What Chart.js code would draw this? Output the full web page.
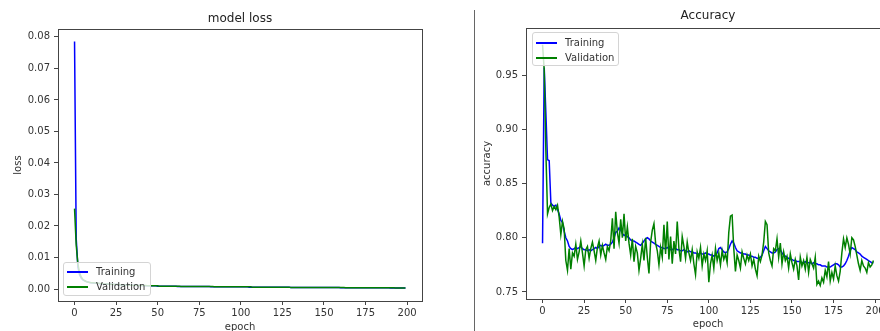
<!DOCTYPE html>
<html>
<head>
<meta charset="utf-8">
<script src="https://cdn.jsdelivr.net/npm/chart.js"></script>
<style>
  html, body { margin: 0; padding: 0; background: #fff; width: 880px; height: 331px; overflow: hidden; position: relative; }
  .wrap { position: absolute; top: 0; }
  .sep { position: absolute; left: 474px; top: 10px; width: 1px; height: 321px; background: #666; }
  .legend { position: absolute; background: rgba(255,255,255,0.8); border: 1px solid #d4d4d4; border-radius: 3px;
            font: 10px 'DejaVu Sans', sans-serif; color: #333; box-sizing: border-box; padding: 0 0 0 3px; }
  .legend .item { height: 15px; display: flex; align-items: center; white-space: nowrap; }
  .legend .swatch { display: inline-block; width: 21px; height: 2px; margin-right: 8px; }
</style>
</head>
<body>
<div class="wrap" style="left:0px"><canvas id="lossChart" width="480" height="340"></canvas></div>
<div class="wrap" style="left:476px"><canvas id="accChart" width="464" height="340"></canvas></div>
<div class="sep"></div>
<div class="legend" id="lossLegend" style="left:63px; top:262px; width:88px; height:34px; padding-top:1px"></div>
<div class="legend" id="accLegend" style="left:532px; top:32px; width:87px; height:34px; padding-top:2px"></div>
<script>
// epochs 0..199
var epochs = Array.from({ length: 200 }, (_, i) => i);
var seriesNames = ['Training', 'Validation'];

var lossTrain = [
  0.0785, 0.0160, 0.0070, 0.0045, 0.0035, 0.0029, 0.0026, 0.0024, 0.0022, 0.0021,
  0.0020, 0.0019, 0.0019, 0.0018, 0.0018, 0.0017, 0.0017, 0.0016, 0.0016, 0.0016,
  0.0015, 0.0015, 0.0015, 0.0014, 0.0014, 0.0014, 0.0014, 0.0013, 0.0013, 0.0013,
  0.0013, 0.0013, 0.0012, 0.0012, 0.0012, 0.0012, 0.0012, 0.0011, 0.0011, 0.0011,
  0.0011, 0.0011, 0.0011, 0.0010, 0.0010, 0.0010, 0.0010, 0.0010, 0.0010, 0.0010,
  0.0009, 0.0009, 0.0009, 0.0009, 0.0009, 0.0009, 0.0009, 0.0009, 0.0009, 0.0009,
  0.0009, 0.0009, 0.0008, 0.0008, 0.0008, 0.0008, 0.0008, 0.0008, 0.0008, 0.0008,
  0.0008, 0.0008, 0.0008, 0.0008, 0.0008, 0.0008, 0.0008, 0.0008, 0.0008, 0.0008,
  0.0008, 0.0008, 0.0007, 0.0007, 0.0007, 0.0007, 0.0007, 0.0007, 0.0007, 0.0007,
  0.0007, 0.0007, 0.0007, 0.0007, 0.0007, 0.0007, 0.0007, 0.0007, 0.0007, 0.0007,
  0.0007, 0.0007, 0.0007, 0.0007, 0.0007, 0.0006, 0.0006, 0.0006, 0.0006, 0.0006,
  0.0006, 0.0006, 0.0006, 0.0006, 0.0006, 0.0006, 0.0006, 0.0006, 0.0006, 0.0006,
  0.0006, 0.0006, 0.0006, 0.0006, 0.0006, 0.0006, 0.0006, 0.0006, 0.0006, 0.0006,
  0.0005, 0.0005, 0.0005, 0.0005, 0.0005, 0.0005, 0.0005, 0.0005, 0.0005, 0.0005,
  0.0005, 0.0005, 0.0005, 0.0005, 0.0005, 0.0005, 0.0005, 0.0005, 0.0005, 0.0005,
  0.0005, 0.0005, 0.0005, 0.0005, 0.0005, 0.0005, 0.0005, 0.0005, 0.0005, 0.0005,
  0.0004, 0.0004, 0.0004, 0.0004, 0.0004, 0.0004, 0.0004, 0.0004, 0.0004, 0.0004,
  0.0004, 0.0004, 0.0004, 0.0004, 0.0004, 0.0004, 0.0004, 0.0004, 0.0004, 0.0004,
  0.0004, 0.0004, 0.0004, 0.0004, 0.0004, 0.0004, 0.0004, 0.0004, 0.0004, 0.0004,
  0.0003, 0.0003, 0.0003, 0.0003, 0.0003, 0.0003, 0.0003, 0.0003, 0.0003, 0.0003
];

var lossVal = [
  0.0255, 0.0140, 0.0080, 0.0052, 0.0038, 0.0031, 0.0027, 0.0024, 0.0022, 0.0021,
  0.0020, 0.0020, 0.0019, 0.0019, 0.0018, 0.0018, 0.0017, 0.0017, 0.0016, 0.0016,
  0.0016, 0.0015, 0.0015, 0.0015, 0.0014, 0.0014, 0.0014, 0.0014, 0.0013, 0.0013,
  0.0013, 0.0013, 0.0013, 0.0012, 0.0012, 0.0012, 0.0012, 0.0012, 0.0011, 0.0011,
  0.0011, 0.0011, 0.0011, 0.0011, 0.0010, 0.0010, 0.0010, 0.0010, 0.0010, 0.0010,
  0.0010, 0.0009, 0.0009, 0.0009, 0.0009, 0.0009, 0.0009, 0.0009, 0.0009, 0.0009,
  0.0009, 0.0009, 0.0009, 0.0009, 0.0008, 0.0008, 0.0008, 0.0008, 0.0008, 0.0008,
  0.0008, 0.0008, 0.0008, 0.0008, 0.0008, 0.0008, 0.0008, 0.0008, 0.0008, 0.0008,
  0.0008, 0.0008, 0.0008, 0.0008, 0.0007, 0.0007, 0.0007, 0.0007, 0.0007, 0.0007,
  0.0007, 0.0007, 0.0007, 0.0007, 0.0007, 0.0007, 0.0007, 0.0007, 0.0007, 0.0007,
  0.0007, 0.0007, 0.0007, 0.0007, 0.0007, 0.0007, 0.0007, 0.0006, 0.0006, 0.0006,
  0.0006, 0.0006, 0.0006, 0.0006, 0.0006, 0.0006, 0.0006, 0.0006, 0.0006, 0.0006,
  0.0006, 0.0006, 0.0006, 0.0006, 0.0006, 0.0006, 0.0006, 0.0006, 0.0006, 0.0006,
  0.0005, 0.0005, 0.0005, 0.0005, 0.0005, 0.0005, 0.0005, 0.0005, 0.0005, 0.0005,
  0.0005, 0.0005, 0.0005, 0.0005, 0.0005, 0.0005, 0.0005, 0.0005, 0.0005, 0.0005,
  0.0005, 0.0005, 0.0005, 0.0005, 0.0005, 0.0005, 0.0005, 0.0005, 0.0005, 0.0005,
  0.0005, 0.0005, 0.0005, 0.0004, 0.0004, 0.0004, 0.0004, 0.0004, 0.0004, 0.0004,
  0.0004, 0.0004, 0.0004, 0.0004, 0.0004, 0.0004, 0.0004, 0.0004, 0.0004, 0.0004,
  0.0004, 0.0004, 0.0004, 0.0004, 0.0004, 0.0004, 0.0004, 0.0004, 0.0004, 0.0004,
  0.0004, 0.0004, 0.0004, 0.0003, 0.0003, 0.0003, 0.0003, 0.0003, 0.0003, 0.0003
];

var accTrain = [
  0.795, 0.957, 0.915, 0.872, 0.871, 0.832, 0.830, 0.829, 0.830, 0.826,
  0.822, 0.816, 0.814, 0.806, 0.800, 0.797, 0.792, 0.790, 0.789, 0.790,
  0.791, 0.790, 0.791, 0.792, 0.790, 0.789, 0.789, 0.788, 0.789, 0.788,
  0.789, 0.790, 0.791, 0.790, 0.792, 0.793, 0.792, 0.793, 0.794, 0.793,
  0.793, 0.794, 0.796, 0.800, 0.805, 0.806, 0.809, 0.807, 0.804, 0.802,
  0.803, 0.801, 0.800, 0.798, 0.797, 0.797, 0.796, 0.795, 0.794, 0.793,
  0.795, 0.797, 0.799, 0.800, 0.799, 0.797, 0.796, 0.795, 0.794, 0.793,
  0.792, 0.791, 0.791, 0.790, 0.790, 0.791, 0.790, 0.789, 0.789, 0.790,
  0.790, 0.789, 0.789, 0.788, 0.788, 0.789, 0.788, 0.787, 0.788, 0.787,
  0.787, 0.786, 0.786, 0.785, 0.785, 0.786, 0.785, 0.785, 0.786, 0.785,
  0.785, 0.784, 0.784, 0.783, 0.784, 0.786, 0.790, 0.791, 0.789, 0.787,
  0.786, 0.787, 0.790, 0.794, 0.797, 0.795, 0.791, 0.788, 0.787, 0.786,
  0.786, 0.785, 0.785, 0.784, 0.784, 0.783, 0.783, 0.782, 0.782, 0.781,
  0.781, 0.782, 0.784, 0.788, 0.792, 0.790, 0.788, 0.787, 0.786, 0.786,
  0.787, 0.789, 0.790, 0.789, 0.786, 0.784, 0.783, 0.782, 0.781, 0.780,
  0.780, 0.779, 0.779, 0.778, 0.778, 0.778, 0.777, 0.777, 0.778, 0.777,
  0.777, 0.777, 0.776, 0.777, 0.776, 0.776, 0.775, 0.775, 0.774, 0.774,
  0.774, 0.773, 0.773, 0.773, 0.774, 0.775, 0.776, 0.776, 0.775, 0.773,
  0.773, 0.774, 0.776, 0.779, 0.783, 0.788, 0.791, 0.790, 0.789, 0.787,
  0.786, 0.785, 0.783, 0.782, 0.781, 0.780, 0.779, 0.778, 0.777, 0.777
];

var accVal = [
  0.978, 0.955, 0.880, 0.822, 0.828, 0.831, 0.825, 0.829, 0.826, 0.830,
  0.819, 0.803, 0.815, 0.808, 0.779, 0.770, 0.790, 0.771, 0.786, 0.783,
  0.794, 0.780, 0.787, 0.797, 0.786, 0.774, 0.789, 0.792, 0.781, 0.790,
  0.796, 0.788, 0.779, 0.791, 0.797, 0.784, 0.793, 0.786, 0.780, 0.792,
  0.788, 0.797, 0.818, 0.790, 0.824, 0.805, 0.795, 0.817, 0.800, 0.822,
  0.797, 0.810, 0.795, 0.784, 0.799, 0.778, 0.792, 0.786, 0.770, 0.781,
  0.794, 0.779, 0.800, 0.782, 0.767, 0.796, 0.807, 0.813, 0.795, 0.788,
  0.775, 0.791, 0.782, 0.812, 0.785, 0.815, 0.780, 0.801, 0.776, 0.797,
  0.785, 0.815, 0.790, 0.778, 0.801, 0.792, 0.781, 0.796, 0.786, 0.779,
  0.789, 0.776, 0.766, 0.787, 0.781, 0.791, 0.774, 0.785, 0.779, 0.788,
  0.759, 0.776, 0.784, 0.772, 0.790, 0.779, 0.786, 0.775, 0.788, 0.780,
  0.785, 0.777, 0.805, 0.820, 0.821, 0.790, 0.769, 0.784, 0.779, 0.772,
  0.787, 0.781, 0.776, 0.784, 0.779, 0.785, 0.774, 0.780, 0.771, 0.765,
  0.783, 0.778, 0.784, 0.796, 0.815, 0.812, 0.786, 0.779, 0.774, 0.790,
  0.788, 0.799, 0.782, 0.795, 0.776, 0.787, 0.779, 0.783, 0.772, 0.785,
  0.777, 0.771, 0.780, 0.774, 0.761, 0.782, 0.774, 0.779, 0.771, 0.782,
  0.768, 0.780, 0.776, 0.772, 0.782, 0.757, 0.760, 0.756, 0.763, 0.759,
  0.770, 0.764, 0.778, 0.760, 0.768, 0.762, 0.774, 0.765, 0.760, 0.769,
  0.786, 0.799, 0.791, 0.800, 0.794, 0.785, 0.800, 0.798, 0.792, 0.784,
  0.776, 0.770, 0.779, 0.774, 0.772, 0.768, 0.777, 0.773, 0.775, 0.779
];

var epochTicks = [0, 25, 50, 75, 100, 125, 150, 175, 200];
var lossTicks = [0, 0.01, 0.02, 0.03, 0.04, 0.05, 0.06, 0.07, 0.08];
var accTicks = [0.75, 0.80, 0.85, 0.90, 0.95];

Chart.defaults.font.family = "'DejaVu Sans', sans-serif";
Chart.defaults.color = '#333';

var axisColor = '#444';

function fixTicks(list) {
  return function (scale) { scale.ticks = list.map(function (v) { return { value: v }; }); };
}

// empty axes, only used to draw the top / right spine and to hold the margins
function frameAxis(pos, size) {
  return {
    type: 'linear', position: pos, display: true,
    grid: { display: false }, ticks: { display: false },
    border: { display: true, color: axisColor, width: 1 },
    afterFit: function (s) { if (s.isHorizontal()) s.height = size; else s.width = size; }
  };
}

function makeConfig(o) {
  return {
    type: 'line',
    data: {
      labels: epochs,
      datasets: [
        // order 1 -> drawn under validation, like matplotlib
        { label: seriesNames[0], data: o.train, order: 1, borderColor: 'blue', backgroundColor: 'blue', borderWidth: 1.5, pointRadius: 0, fill: false },
        { label: seriesNames[1], data: o.val, order: 0, borderColor: 'green', backgroundColor: 'green', borderWidth: 1.5, pointRadius: 0, fill: false }
      ]
    },
    options: {
      responsive: false,
      animation: false,
      devicePixelRatio: 1,
      layout: { padding: 0 },
      plugins: {
        legend: { display: false },
        tooltip: { enabled: false },
        title: { display: true, text: o.title, color: '#222', font: { size: 12, weight: 'normal' }, padding: o.titlePad }
      },
      scales: {
        x: {
          type: 'linear', min: -9.95, max: 208.95,
          afterBuildTicks: fixTicks(epochTicks),
          ticks: { autoSkip: false, maxRotation: 0, padding: 2, font: { size: 10 }, callback: function (v) { return v; } },
          grid: { drawOnChartArea: false, color: axisColor, tickLength: 4 },
          border: { color: axisColor },
          title: { display: true, text: 'epoch', font: { size: 10 }, padding: { top: 0, bottom: o.xTitleBottom } },
          afterFit: function (s) { s.height = o.xHeight; }
        },
        y: {
          type: 'linear', min: o.yMin, max: o.yMax,
          afterBuildTicks: fixTicks(o.yTicks),
          ticks: { autoSkip: false, padding: 4, font: { size: 10 }, callback: function (v) { return v.toFixed(2); } },
          grid: { drawOnChartArea: false, color: axisColor, tickLength: 4 },
          border: { color: axisColor },
          title: { display: true, text: o.yLabel, font: { size: 10 }, padding: { top: o.yTitleLeft, bottom: 0 } },
          afterFit: function (s) { s.width = o.yWidth; }
        },
        x2: frameAxis('top', 0),
        y2: frameAxis('right', o.rightWidth)
      }
    }
  };
}

function htmlLegend(chart, id) {
  var box = document.getElementById(id);
  chart.data.datasets.forEach(function (ds) {
    box.innerHTML += "<div class='item'><span class='swatch' style='background:" + ds.borderColor + "'></span>" + ds.label + "</div>";
  });
}

var lossChart = new Chart(document.getElementById('lossChart').getContext('2d'), makeConfig({
  title: 'model loss', titlePad: { top: 12, bottom: 2.6 },
  train: lossTrain, val: lossVal,
  yMin: -0.0038, yMax: 0.0825, yTicks: lossTicks, yLabel: 'loss',
  yWidth: 58, rightWidth: 58, xHeight: 39, xTitleBottom: 7, yTitleLeft: 12
}));
htmlLegend(lossChart, 'lossLegend');

var accChart = new Chart(document.getElementById('accChart').getContext('2d'), makeConfig({
  title: 'Accuracy', titlePad: { top: 9, bottom: 4.6 },
  train: accTrain, val: accVal,
  yMin: 0.7435, yMax: 0.9935, yTicks: accTicks, yLabel: 'accuracy',
  yWidth: 50, rightWidth: 50, xHeight: 41, xTitleBottom: 10, yTitleLeft: 5
}));
htmlLegend(accChart, 'accLegend');
</script>
</body>
</html>
